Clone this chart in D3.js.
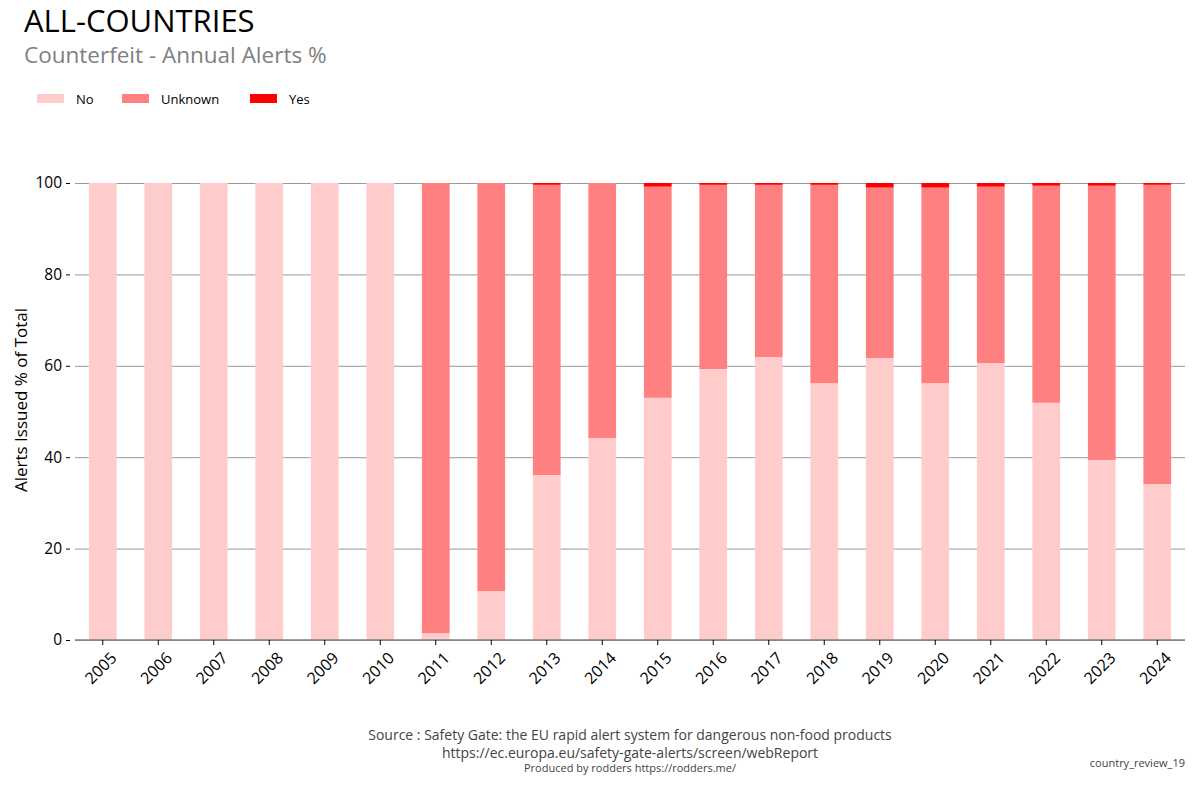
<!DOCTYPE html>
<html>
<head>
<meta charset="UTF-8">
<title>Counterfeit - Annual Alerts %</title>
<style>
  body { margin: 0; background: #fff; font-family: "Open Sans", "Noto Sans", sans-serif; }
  .grid line { stroke: #999; stroke-width: 1; }
  .grid path { display: none; }
</style>
</head>
<body>
<svg id="chart" width="1200" height="800"></svg>
<script src="https://cdn.jsdelivr.net/npm/d3@7"></script>
<script>
// data
const years = ["2005","2006","2007","2008","2009","2010","2011","2012","2013","2014",
               "2015","2016","2017","2018","2019","2020","2021","2022","2023","2024"];
const noPct  = [100, 100, 100, 100, 100, 100, 1.5, 10.7, 36.1, 44.2,
                53.0, 59.3, 61.9, 56.2, 61.7, 56.2, 60.6, 51.9, 39.4, 34.1];
const yesPct = [0, 0, 0, 0, 0, 0, 0, 0, 0.4, 0,
                0.8, 0.4, 0.4, 0.4, 1.0, 1.0, 0.8, 0.6, 0.6, 0.4];
const unknownPct = noPct.map((v, i) => Math.max(0, 100 - v - yesPct[i]));
const yTicks = [0, 20, 40, 60, 80, 100];

const seriesNames = ["No", "Unknown", "Yes"];
const colors = { No: "#ffcccc", Unknown: "#ff8080", Yes: "#ff0000" };

const rows = years.map((y, i) => ({ year: y, No: noPct[i], Unknown: unknownPct[i], Yes: yesPct[i] }));

const svg = d3.select("#chart");
const margin = { left: 75, right: 15, top: 183, bottom: 160 };
const W = 1200, H = 800;

const x = d3.scaleBand().domain(years).range([margin.left, W - margin.right])
  .paddingInner(0.5).paddingOuter(0.25);
const y = d3.scaleLinear().domain([0, 100]).range([H - margin.bottom, margin.top]);

// titles
svg.append("text").attr("x", 24).attr("y", 32).attr("font-size", 31).attr("fill", "#000")
  .text("ALL-COUNTRIES");
svg.append("text").attr("x", 24).attr("y", 63).attr("font-size", 22.5).attr("fill", "#808080")
  .text("Counterfeit - Annual Alerts %");

// legend
const legX = [37, 122, 250];
seriesNames.forEach((s, i) => {
  svg.append("rect").attr("x", legX[i]).attr("y", 94).attr("width", 27).attr("height", 9)
    .attr("fill", colors[s]);
  svg.append("text").attr("x", legX[i] + 39).attr("y", 104).attr("font-size", 13).attr("fill", "#000")
    .text(s);
});

// grid
svg.append("g").attr("class", "grid")
  .attr("transform", `translate(${margin.left},0)`)
  .call(d3.axisLeft(y).tickValues(yTicks).tickSize(-(W - margin.left - margin.right)).tickFormat(""));

// bars
const stack = d3.stack().keys(seriesNames)(rows);
svg.append("g").selectAll("g").data(stack).join("g")
  .attr("fill", d => colors[d.key])
  .selectAll("rect").data(d => d).join("rect")
  .attr("x", d => x(d.data.year))
  .attr("width", x.bandwidth())
  .attr("y", d => y(d[1]))
  .attr("height", d => y(d[0]) - y(d[1]));

// y axis ticks and labels
const yAxis = svg.append("g").attr("transform", `translate(${margin.left - 5},0)`)
  .call(d3.axisLeft(y).tickValues(yTicks).tickSize(4).tickPadding(4));
yAxis.select(".domain").remove();
yAxis.selectAll("text").attr("font-size", 15.5).attr("font-family", "Open Sans").attr("fill", "#000");
yAxis.selectAll("line").attr("stroke", "#000");

// x axis
const xAxis = svg.append("g").attr("transform", `translate(0,${H - margin.bottom})`)
  .call(d3.axisBottom(x).tickSize(5).tickPadding(4));
xAxis.select(".domain").attr("stroke", "#808080").attr("stroke-width", 1.5)
  .attr("d", `M${margin.left},0H${W - margin.right}`);
xAxis.selectAll("line").attr("stroke", "#000");
xAxis.selectAll("text").attr("font-size", 16).attr("font-family", "Open Sans").attr("fill", "#000")
  .attr("text-anchor", "middle").attr("y", 0).attr("dy", "0.35em")
  .attr("transform", "translate(-2,28) rotate(-45)");

// y axis title
svg.append("text").attr("transform", "translate(27,400) rotate(-90)")
  .attr("text-anchor", "middle").attr("font-size", 17).attr("fill", "#000")
  .text("Alerts Issued % of Total");

// footer
svg.append("text").attr("x", 630).attr("y", 740).attr("text-anchor", "middle")
  .attr("font-size", 14).attr("fill", "#444")
  .text("Source : Safety Gate: the EU rapid alert system for dangerous non-food products");
svg.append("text").attr("x", 630).attr("y", 758).attr("text-anchor", "middle")
  .attr("font-size", 14).attr("fill", "#444")
  .text("https://ec.europa.eu/safety-gate-alerts/screen/webReport");
svg.append("text").attr("x", 630).attr("y", 772).attr("text-anchor", "middle")
  .attr("font-size", 11).attr("fill", "#444")
  .text("Produced by rodders https://rodders.me/");
svg.append("text").attr("x", 1185).attr("y", 767).attr("text-anchor", "end")
  .attr("font-size", 11).attr("fill", "#444")
  .text("country_review_19");
</script>
</body>
</html>
